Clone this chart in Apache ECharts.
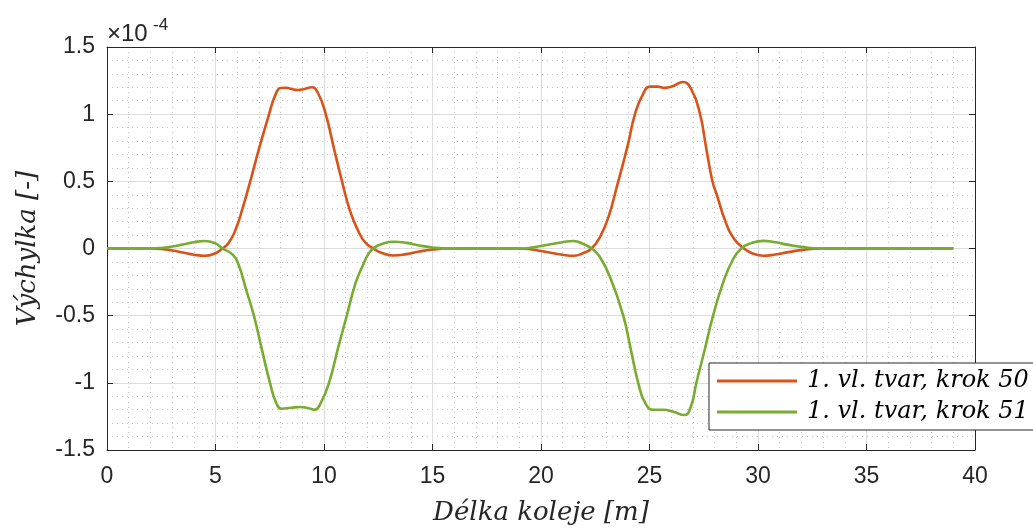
<!DOCTYPE html>
<html>
<head>
<meta charset="utf-8">
<script src="https://cdn.jsdelivr.net/npm/echarts@6/dist/echarts.min.js"></script>
<style>
  html, body { margin: 0; padding: 0; background: #ffffff; }
  #chart { width: 1033px; height: 531px; }
</style>
</head>
<body>
<div id="chart"></div>
<script>
// Délka koleje [m] a výchylka (v jednotkách 1e-4) pro první vlastní tvar
const polohaKrok50 = [0, 1, 2, 2.5, 3, 3.5, 4, 4.5, 5, 5.32, 5.6, 5.9, 6.25, 6.6, 7, 7.45, 7.75, 8, 8.25, 8.5, 8.8, 9.1, 9.43, 9.7, 10.08, 10.45, 10.83, 11.2, 11.58, 11.9, 12.27, 12.7, 13.2, 13.8, 14.4, 15, 15.7, 16.5, 17.5, 18.5, 19, 19.5, 20, 20.5, 21, 21.5, 22, 22.33, 22.7, 23.1, 23.56, 24, 24.33, 24.7, 25.02, 25.35, 25.71, 26.1, 26.53, 26.94, 27.33, 27.6, 27.9, 28.1, 28.5, 28.86, 29.35, 29.8, 30.25, 30.8, 31.4, 32, 32.9, 34, 35, 36, 37, 38, 39];
const vychylkaKrok50 = [0, 0, 0, -0.004, -0.015, -0.03, -0.046, -0.054, -0.035, 0, 0.04, 0.13, 0.3, 0.5, 0.74, 0.99, 1.14, 1.195, 1.197, 1.187, 1.18, 1.188, 1.2, 1.165, 1.0, 0.75, 0.5, 0.28, 0.13, 0.045, 0, -0.035, -0.052, -0.042, -0.022, -0.008, 0, 0, 0, 0, 0, -0.005, -0.018, -0.033, -0.047, -0.054, -0.03, 0, 0.08, 0.23, 0.5, 0.77, 1.0, 1.15, 1.205, 1.205, 1.196, 1.21, 1.24, 1.18, 1.0, 0.76, 0.5, 0.4, 0.2, 0.08, 0, -0.04, -0.054, -0.045, -0.027, -0.012, 0, 0, 0, 0, 0, 0, 0];

const polohaKrok51 = [0, 1, 2, 2.5, 3, 3.5, 4, 4.5, 5, 5.32, 5.75, 6.05, 6.4, 6.77, 7.15, 7.51, 7.8, 8.05, 8.5, 8.9, 9.25, 9.58, 9.85, 10.23, 10.65, 11.05, 11.45, 11.82, 12.05, 12.3, 12.7, 13.2, 13.8, 14.4, 15, 15.7, 16.5, 17.5, 18.5, 19, 19.5, 20, 20.5, 21, 21.5, 22, 22.33, 22.7, 23.2, 23.79, 24.15, 24.48, 24.8, 25.18, 25.64, 26.1, 26.6, 26.9, 27.16, 27.55, 27.93, 28.4, 28.85, 29.23, 29.7, 30.25, 30.8, 31.4, 32, 32.9, 34, 35, 36, 37, 38, 39];
const vychylkaKrok51 = [0, 0, 0, 0.004, 0.015, 0.03, 0.046, 0.056, 0.038, 0, -0.04, -0.115, -0.3, -0.5, -0.76, -1.0, -1.15, -1.193, -1.185, -1.18, -1.187, -1.2, -1.15, -1.0, -0.74, -0.5, -0.26, -0.115, -0.04, 0.005, 0.035, 0.05, 0.042, 0.022, 0.008, 0, 0, 0, 0, 0, 0.005, 0.018, 0.033, 0.047, 0.056, 0.03, 0, -0.06, -0.22, -0.5, -0.76, -1.0, -1.15, -1.2, -1.2, -1.215, -1.24, -1.18, -1.0, -0.75, -0.5, -0.25, -0.08, 0, 0.04, 0.057, 0.046, 0.027, 0.012, 0, 0, 0, 0, 0, 0, 0];

const nazvySerii = ['1. vl. tvar, krok 50', '1. vl. tvar, krok 51'];
const xRozsah = [0, 40, 5];       // min, max, krok
const yRozsah = [-1.5, 1.5, 0.5]; // min, max, krok
const exponent = '-4';

const pary = (xs, ys) => xs.map((x, i) => [x, ys[i]]);

const osaBarva = '#262626';
const mrizka = '#dcdcdc';
const jemnaMrizka = '#c4c4c4';
const sans = 'Liberation Sans, Arial, sans-serif';
const popisFont = { fontFamily: sans, fontSize: 23, color: osaBarva };
const nazevFont = { fontFamily: 'DejaVu Serif, serif', fontStyle: 'italic', fontSize: 26, color: osaBarva };

function osaX(dole) {
  return {
    type: 'value', position: dole ? 'bottom' : 'top',
    min: xRozsah[0], max: xRozsah[1], interval: xRozsah[2],
    axisLine: { show: true, onZero: false, lineStyle: { color: osaBarva, width: 1 } },
    axisTick: { show: true, inside: true, length: 6, lineStyle: { color: osaBarva } },
    axisLabel: Object.assign({ show: dole, margin: 15 }, popisFont),
    splitLine: { show: dole, lineStyle: { color: mrizka, width: 1 } },
    minorTick: { show: false, splitNumber: 5 },
    minorSplitLine: { show: dole, lineStyle: { color: jemnaMrizka, width: 1, type: [1, 4] } },
    name: dole ? 'Délka koleje [m]' : '', nameLocation: 'middle', nameGap: 50,
    nameTextStyle: nazevFont
  };
}
function osaY(vlevo) {
  return {
    type: 'value', position: vlevo ? 'left' : 'right',
    min: yRozsah[0], max: yRozsah[1], interval: yRozsah[2],
    axisLine: { show: true, onZero: false, lineStyle: { color: osaBarva, width: 1 } },
    axisTick: { show: true, inside: true, length: 6, lineStyle: { color: osaBarva } },
    axisLabel: Object.assign({ show: vlevo, margin: 12, padding: [5, 0, 0, 0],
      formatter: v => String(Math.round(v * 10) / 10) }, popisFont),
    splitLine: { show: vlevo, lineStyle: { color: mrizka, width: 1 } },
    minorTick: { show: false, splitNumber: 5 },
    minorSplitLine: { show: vlevo, lineStyle: { color: jemnaMrizka, width: 1, type: [1, 4] } },
    name: vlevo ? 'Výchylka [-]' : '', nameLocation: 'middle', nameGap: 66,
    nameTextStyle: nazevFont
  };
}

const chart = echarts.init(document.getElementById('chart'), null, { renderer: 'canvas' });
chart.setOption({
  animation: false,
  backgroundColor: '#ffffff',
  grid: { left: 107, top: 47, right: 58, bottom: 77, containLabel: false },
  xAxis: [osaX(true), osaX(false)],
  yAxis: [osaY(true), osaY(false)],
  legend: {
    left: 709, top: 363,
    orient: 'vertical',
    backgroundColor: '#ffffff',
    borderColor: osaBarva, borderWidth: 1, borderRadius: 0,
    padding: [6, 20, 6, 8],
    itemWidth: 80, itemHeight: 3, itemGap: 7,
    icon: 'rect',
    textStyle: { fontFamily: 'DejaVu Serif, serif', fontStyle: 'italic', fontSize: 24, color: '#000000', padding: [0, 0, 0, 5] },
    data: nazvySerii
  },
  graphic: [
    { type: 'text', left: 107, top: 22,
      style: { text: '×10', fontSize: 24, fontFamily: sans, fill: osaBarva } },
    { type: 'text', left: 153, top: 17,
      style: { text: exponent, fontSize: 17, fontFamily: sans, fill: osaBarva } }
  ],
  series: [
    {
      name: nazvySerii[0], type: 'line', xAxisIndex: 0, yAxisIndex: 0,
      data: pary(polohaKrok50, vychylkaKrok50),
      smooth: 0.5, showSymbol: false, symbol: 'none',
      lineStyle: { color: '#D95319', width: 2.6 }, itemStyle: { color: '#D95319' }, z: 3
    },
    {
      name: nazvySerii[1], type: 'line', xAxisIndex: 0, yAxisIndex: 0,
      data: pary(polohaKrok51, vychylkaKrok51),
      smooth: 0.5, showSymbol: false, symbol: 'none',
      lineStyle: { color: '#77AC30', width: 2.6 }, itemStyle: { color: '#77AC30' }, z: 4
    }
  ]
});
</script>
</body>
</html>
